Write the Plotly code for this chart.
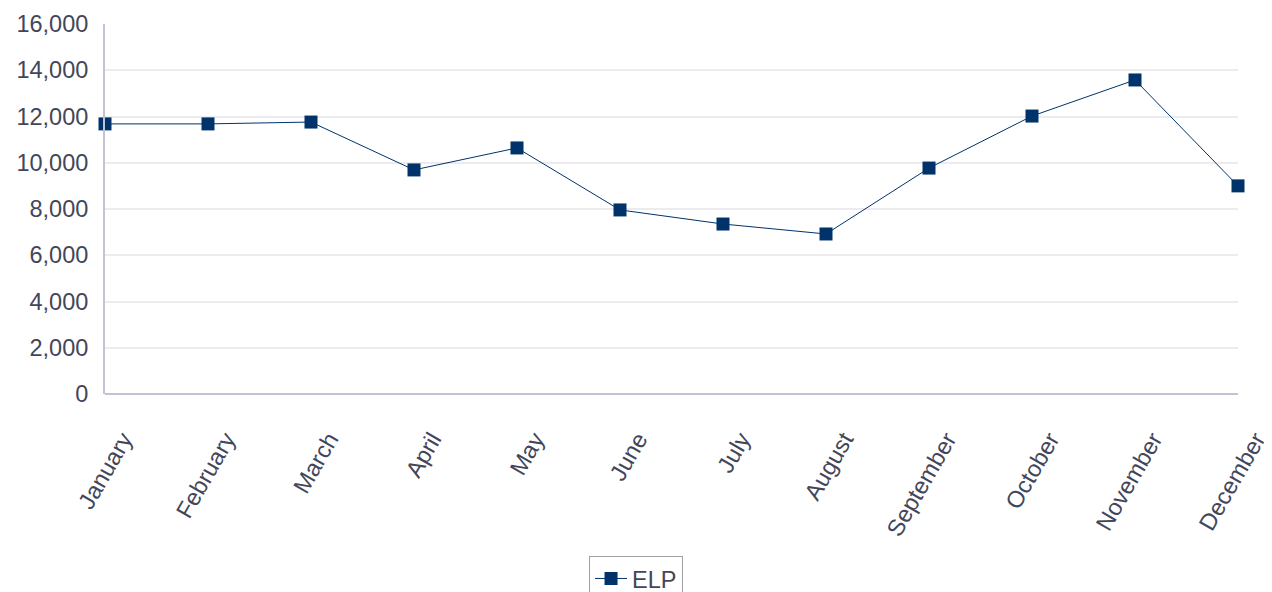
import plotly.graph_objects as go

months = ["January", "February", "March", "April", "May", "June", "July",
          "August", "September", "October", "November", "December"]
elp = [11680, 11680, 11760, 9690, 10640, 7960, 7350, 6920, 9770, 12020, 13580, 9000]
y_ticks = [0, 2000, 4000, 6000, 8000, 10000, 12000, 14000, 16000]

font_color = "#43465a"
series_color = "#00336a"
fsize = 23.5

fig = go.Figure()
fig.add_trace(go.Scatter(
    x=months, y=elp, name="ELP", mode="lines+markers",
    line=dict(color=series_color, width=1),
    marker=dict(symbol="square", size=13, color=series_color),
    cliponaxis=False,
))

# the page body adds an 8px offset, so the figure is 8px smaller on each axis
fig.update_layout(
    width=1264, height=584,
    margin=dict(l=97, r=34, t=16, b=198, autoexpand=False),
    paper_bgcolor="white", plot_bgcolor="white",
    font=dict(family="Liberation Sans, Arial, sans-serif", size=fsize, color=font_color),
    showlegend=True,
    legend=dict(orientation="h", x=0.4687, xanchor="center", y=-0.437, yanchor="top",
                bordercolor="#a0a0a0", borderwidth=1, font=dict(size=fsize, color=font_color),
                itemwidth=32),
    xaxis=dict(
        type="category", range=[0, 11], tickangle=-60,
        showgrid=False, showline=False, zeroline=False, ticks="",
        ticklabelstandoff=26, ticklabelshift=18,
        tickfont=dict(size=fsize, color=font_color),
    ),
    yaxis=dict(
        range=[0, 16000], tickvals=y_ticks, tickformat=",",
        showgrid=True, gridcolor="#ebebf0", gridwidth=2,
        showline=True, linecolor="#c0c2d6", linewidth=2,
        zeroline=True, zerolinecolor="#c0c2d6", zerolinewidth=2,
        ticks="", ticklabelstandoff=10,
        tickfont=dict(size=fsize, color=font_color),
    ),
)

fig.write_html("out.html")
